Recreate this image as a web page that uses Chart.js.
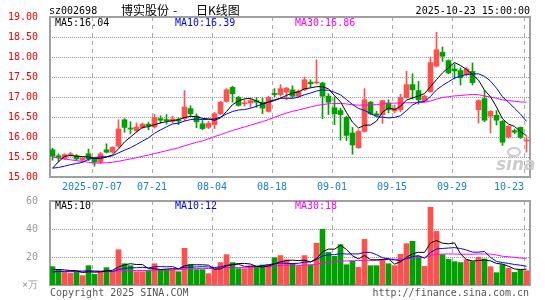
<!DOCTYPE html>
<html>
<head>
<meta charset="utf-8">
<script src="https://cdn.jsdelivr.net/npm/chart.js@4.4.1/dist/chart.umd.min.js"></script>
<style>
  html, body { margin: 0; padding: 0; background: #fff; }
  #wrap { position: relative; width: 545px; height: 300px; overflow: hidden; }
  #kline { position: absolute; left: 0; top: 0; }
  #vol { position: absolute; left: 0; top: 190px; }
</style>
</head>
<body>
<div id="wrap">
  <canvas id="kline" width="545" height="200"></canvas>
  <canvas id="vol" width="545" height="110"></canvas>
</div>
<script>
// Dates shown under the chart and the candle index each one sits on
const dateLabels = ['2025-07-07', '07-21', '08-04', '08-18', '09-01', '09-15', '09-29', '10-23'];
const dateIndex = [7, 17, 27, 37, 47, 57, 67, 79];

// Daily candles, 2025-06-26 .. 2025-10-23
const opens = [15.68, 15.53, 15.46, 15.55, 15.53, 15.42, 15.58, 15.47, 15.37, 15.68,
  15.62, 15.77, 16.43, 16.22, 16.16, 16.24, 16.32, 16.25, 16.46, 16.43,
  16.39, 16.43, 16.46, 16.71, 16.52, 16.33, 16.24, 16.31, 16.58, 16.89,
  17.24, 16.99, 16.83, 16.85, 16.91, 16.87, 16.64, 17.09, 17.06, 17.12,
  17.18, 17.02, 17.18, 17.37, 17.35, 17.35, 17.02, 16.73, 16.66, 16.49,
  16.10, 15.73, 16.14, 16.87, 16.58, 16.56, 16.85, 16.65, 16.68, 16.98,
  17.31, 17.16, 16.91, 17.13, 17.77, 18.12, 17.91, 17.70, 17.66, 17.56,
  17.64, 16.68, 16.96, 16.52, 16.54, 16.39, 16.00, 16.16, 16.24, 15.90];
const highs = [15.72, 15.58, 15.58, 15.62, 15.56, 15.50, 15.70, 15.47, 15.62, 15.83,
  15.76, 16.43, 16.46, 16.38, 16.35, 16.35, 16.37, 16.57, 16.53, 16.56,
  16.52, 16.48, 17.16, 16.78, 16.58, 16.41, 16.39, 16.62, 16.89, 17.21,
  17.27, 17.02, 16.93, 16.97, 16.99, 16.97, 17.02, 17.21, 17.31, 17.24,
  17.28, 17.18, 17.50, 17.43, 17.93, 17.37, 17.08, 17.00, 16.72, 16.52,
  16.24, 16.18, 17.21, 16.89, 16.64, 16.91, 16.93, 16.80, 17.07, 17.64,
  17.58, 17.39, 17.05, 18.00, 18.62, 18.25, 17.93, 17.83, 17.73, 17.74,
  17.85, 16.93, 17.16, 16.66, 16.66, 16.41, 16.28, 16.20, 16.25, 16.01];
const lows = [15.42, 15.39, 15.44, 15.52, 15.42, 15.37, 15.41, 15.27, 15.34, 15.60,
  15.60, 15.74, 16.12, 16.08, 16.12, 16.21, 16.18, 16.22, 16.35, 16.32,
  16.35, 16.31, 16.41, 16.52, 16.23, 16.18, 16.21, 16.21, 16.56, 16.87,
  16.87, 16.77, 16.77, 16.74, 16.74, 16.58, 16.62, 17.01, 17.02, 16.93,
  16.98, 16.99, 17.16, 17.24, 17.33, 16.46, 16.56, 16.31, 15.92, 15.91,
  15.57, 15.72, 16.12, 16.56, 16.52, 16.34, 16.60, 16.60, 16.63, 16.97,
  16.95, 16.82, 16.88, 17.12, 17.75, 17.89, 17.58, 17.45, 17.30, 17.52,
  17.30, 16.35, 16.38, 16.10, 16.30, 15.79, 15.97, 16.08, 15.96, 15.62];
const closes = [15.52, 15.49, 15.56, 15.58, 15.45, 15.47, 15.45, 15.37, 15.58, 15.62,
  15.74, 16.20, 16.24, 16.20, 16.25, 16.32, 16.28, 16.49, 16.42, 16.41,
  16.45, 16.40, 16.75, 16.58, 16.38, 16.21, 16.34, 16.58, 16.87, 17.18,
  17.08, 16.79, 16.85, 16.91, 16.87, 16.72, 16.99, 17.06, 17.21, 17.22,
  17.02, 17.14, 17.43, 17.33, 17.37, 17.02, 16.87, 16.58, 16.56, 16.04,
  15.80, 16.14, 16.93, 16.58, 16.54, 16.91, 16.68, 16.72, 16.99, 17.31,
  17.18, 16.93, 17.02, 17.86, 18.18, 18.02, 17.60, 17.65, 17.48, 17.70,
  17.36, 16.91, 16.42, 16.64, 16.42, 15.87, 16.27, 16.12, 15.99, 15.92];

// Volume, in 10k lots
const volumes = [13.1, 11.0, 9.0, 8.3, 9.5, 6.7, 13.8, 7.6, 9.5, 12.4,
  9.5, 25.2, 15.2, 13.8, 9.5, 9.5, 10.2, 15.2, 11.0, 11.0,
  11.0, 9.5, 26.2, 14.5, 11.0, 11.0, 8.1, 11.4, 16.0, 21.7,
  16.0, 11.7, 11.7, 13.8, 13.1, 14.3, 14.8, 19.5, 21.0, 18.0,
  15.5, 13.3, 21.0, 14.5, 29.8, 39.8, 23.3, 20.5, 28.8, 14.5,
  16.9, 12.6, 32.6, 13.8, 13.8, 18.1, 15.2, 13.8, 21.9, 29.5,
  31.2, 20.5, 13.3, 55.5, 38.3, 21.7, 18.3, 16.7, 16.0, 18.1,
  16.7, 19.8, 18.6, 13.1, 8.8, 14.5, 11.9, 9.0, 11.0, 10.2];

// Closes / volumes before the window, only used to seed the moving averages
const prevCloses = [16.30, 16.20, 16.15, 16.10, 16.05, 16.05, 16.02, 15.50, 15.45, 15.39,
  15.40, 15.38, 15.35, 15.32, 15.30, 15.33, 15.35, 15.36, 15.32, 15.40,
  15.30, 15.25, 15.20, 15.15, 15.20, 14.68, 14.90, 15.45, 15.55];
const prevVols = [9.8, 10.2, 9.1, 9.6, 10.4, 9.3, 9.9, 8.8, 9.7, 10.1,
  9.5, 9.2, 10.3, 9.4, 9.6, 9.8, 9.0, 9.9, 9.7, 9.7,
  7.4, 7.9, 7.2, 8.0, 7.5, 10.8, 10.2, 10.6, 10.3];

// Legend texts as printed on the chart
const priceMaText = ['MA5:16.04', 'MA10:16.39', 'MA30:16.86'];
const volMaText = ['MA5:10', 'MA10:12', 'MA30:18'];

const RED = '#ff5050';
const GREEN = '#00a000';
const MA_COLORS = ['#000000', '#0000ff', '#ff00ff'];
const MONO = "'DejaVu Sans Mono', monospace";

Chart.defaults.font.family = MONO;
Chart.defaults.font.size = 10;

// candle centre inside its 6px slot
const xc = (i) => i + 2.5 / 6;
const candleColors = closes.map((c, i) => (c >= opens[i] ? RED : GREEN));

const movingAvg = (prev, values, n) => {
  const all = prev.concat(values);
  return values.map((_, i) => {
    let s = 0;
    for (let k = 0; k < n; k++) s += all[prev.length + i - k];
    return { x: xc(i), y: s / n };
  });
};

const maLine = (data, color) => ({
  type: 'line', data: data, borderColor: color, borderWidth: 1,
  pointRadius: 0, tension: 0, fill: false
});

// shared x axis: one slot per trading day
const xAxis = (showLabels, height) => ({
  type: 'linear', min: 0, max: 80, offset: false,
  afterBuildTicks: (s) => { s.ticks = dateIndex.map((v) => ({ value: v })); },
  afterFit: (s) => { s.height = height; s.paddingLeft = 0; s.paddingRight = 0; },
  ticks: {
    display: showLabels, autoSkip: false, maxRotation: 0, padding: 4,
    color: '#1a80d0',
    // last date is pushed left so it stays inside the frame
    callback: (v, idx) => (idx === dateIndex.length - 1 ? dateLabels[idx] + '     ' : dateLabels[idx])
  },
  grid: { color: '#aaaaaa', drawTicks: false, lineWidth: 1, offset: false },
  border: { display: false, dash: [4, 4] }
});

// frame plus dotted lines on the inner y ticks
const framePlugin = {
  id: 'frame',
  beforeDatasetsDraw(chart) {
    const a = chart.chartArea, ctx = chart.ctx, y = chart.scales.y;
    ctx.save();
    ctx.strokeStyle = '#999999';
    ctx.lineWidth = 1;
    ctx.setLineDash([1, 1]);
    y.ticks.forEach((t) => {
      if (t.value <= y.min || t.value >= y.max) return;
      const py = Math.round(y.getPixelForValue(t.value)) + 0.5;
      ctx.beginPath();
      ctx.moveTo(a.left, py);
      ctx.lineTo(a.right, py);
      ctx.stroke();
    });
    ctx.setLineDash([]);
    ctx.strokeStyle = '#a0a0a0';
    ctx.lineWidth = 2;
    ctx.strokeRect(a.left, a.top, a.right - a.left, a.bottom - a.top);
    ctx.restore();
  }
};

const drawLegend = (ctx, texts, y) => {
  const xs = [55, 175, 295];
  ctx.textBaseline = 'middle';
  ctx.textAlign = 'left';
  ctx.font = '10px ' + MONO;
  texts.forEach((t, k) => {
    ctx.fillStyle = MA_COLORS[k];
    ctx.fillText(t, xs[k], y);
  });
};

const klineText = {
  id: 'klineText',
  beforeDatasetsDraw(chart) {
    const ctx = chart.ctx;
    ctx.save();
    ctx.fillStyle = '#cccccc';
    ctx.font = "italic bold 17px 'DejaVu Sans', sans-serif";
    ctx.textBaseline = 'alphabetic';
    ctx.fillText('sina', 496, 170);
    ctx.strokeStyle = '#cccccc';
    ctx.lineWidth = 2;
    ctx.beginPath();
    ctx.ellipse(514, 152, 6, 4, 0, 0, Math.PI * 2);
    ctx.stroke();
    ctx.restore();
  },
  afterDraw(chart) {
    const ctx = chart.ctx;
    ctx.save();
    ctx.textBaseline = 'middle';
    ctx.fillStyle = '#000';
    ctx.font = '10px ' + MONO;
    ctx.textAlign = 'left';
    ctx.fillText('sz002698', 49, 11);
    ctx.textAlign = 'right';
    ctx.fillText('2025-10-23 15:00:00', 530, 11);
    ctx.textAlign = 'left';
    ctx.font = "12px 'Noto Sans CJK SC', sans-serif";
    ctx.fillText('博实股份', 121, 10);
    ctx.fillText('-', 173, 10);
    ctx.fillText('日K线图', 196, 10);
    drawLegend(ctx, priceMaText, 23.5);
    ctx.restore();
  }
};

const volText = {
  id: 'volText',
  afterDraw(chart) {
    const ctx = chart.ctx;
    ctx.save();
    drawLegend(ctx, volMaText, 16.5);
    ctx.fillStyle = '#555555';
    ctx.textAlign = 'left';
    ctx.fillText('Copyright 2025 SINA.COM', 50, 103);
    ctx.textAlign = 'right';
    ctx.fillText('http://finance.sina.com.cn', 529, 103);
    ctx.restore();
  }
};

// K-line chart
new Chart(document.getElementById('kline'), {
  type: 'bar',
  data: {
    datasets: [
      maLine(movingAvg(prevCloses, closes, 5), MA_COLORS[0]),
      maLine(movingAvg(prevCloses, closes, 10), MA_COLORS[1]),
      maLine(movingAvg(prevCloses, closes, 30), MA_COLORS[2]),
      {
        data: closes.map((_, i) => ({ x: xc(i), y: [lows[i], highs[i]] })),
        backgroundColor: candleColors, barThickness: 1, grouped: false
      },
      {
        data: closes.map((c, i) => ({ x: xc(i), y: [opens[i], c] })),
        backgroundColor: candleColors, barThickness: 5, grouped: false, minBarLength: 1
      }
    ]
  },
  options: {
    responsive: false, animation: false, events: [],
    layout: { padding: { top: 17, right: 15, left: 0, bottom: 0 } },
    plugins: { legend: { display: false }, tooltip: { enabled: false } },
    scales: {
      x: xAxis(true, 23),
      y: {
        min: 15, max: 19,
        afterFit: (s) => { s.width = 50; },
        ticks: { stepSize: 0.5, padding: 4, color: '#ff0000', callback: (v) => v.toFixed(2) },
        grid: { display: false },
        border: { display: false }
      }
    }
  },
  plugins: [framePlugin, klineText]
});

// Volume chart
new Chart(document.getElementById('vol'), {
  type: 'bar',
  data: {
    datasets: [
      maLine(movingAvg(prevVols, volumes, 5), MA_COLORS[0]),
      maLine(movingAvg(prevVols, volumes, 10), MA_COLORS[1]),
      maLine(movingAvg(prevVols, volumes, 30), MA_COLORS[2]),
      {
        data: volumes.map((v, i) => ({ x: xc(i), y: v })),
        backgroundColor: candleColors, barThickness: 5, grouped: false
      }
    ]
  },
  options: {
    responsive: false, animation: false, events: [],
    layout: { padding: { top: 11, right: 15, left: 0, bottom: 0 } },
    plugins: { legend: { display: false }, tooltip: { enabled: false } },
    scales: {
      x: xAxis(false, 15),
      y: {
        min: 0, max: 60,
        afterFit: (s) => { s.width = 50; },
        ticks: { stepSize: 20, padding: 4, color: '#999999', callback: (v) => (v === 0 ? '×万' : String(v)) },
        grid: { display: false },
        border: { display: false }
      }
    }
  },
  plugins: [framePlugin, volText]
});
</script>
</body>
</html>
